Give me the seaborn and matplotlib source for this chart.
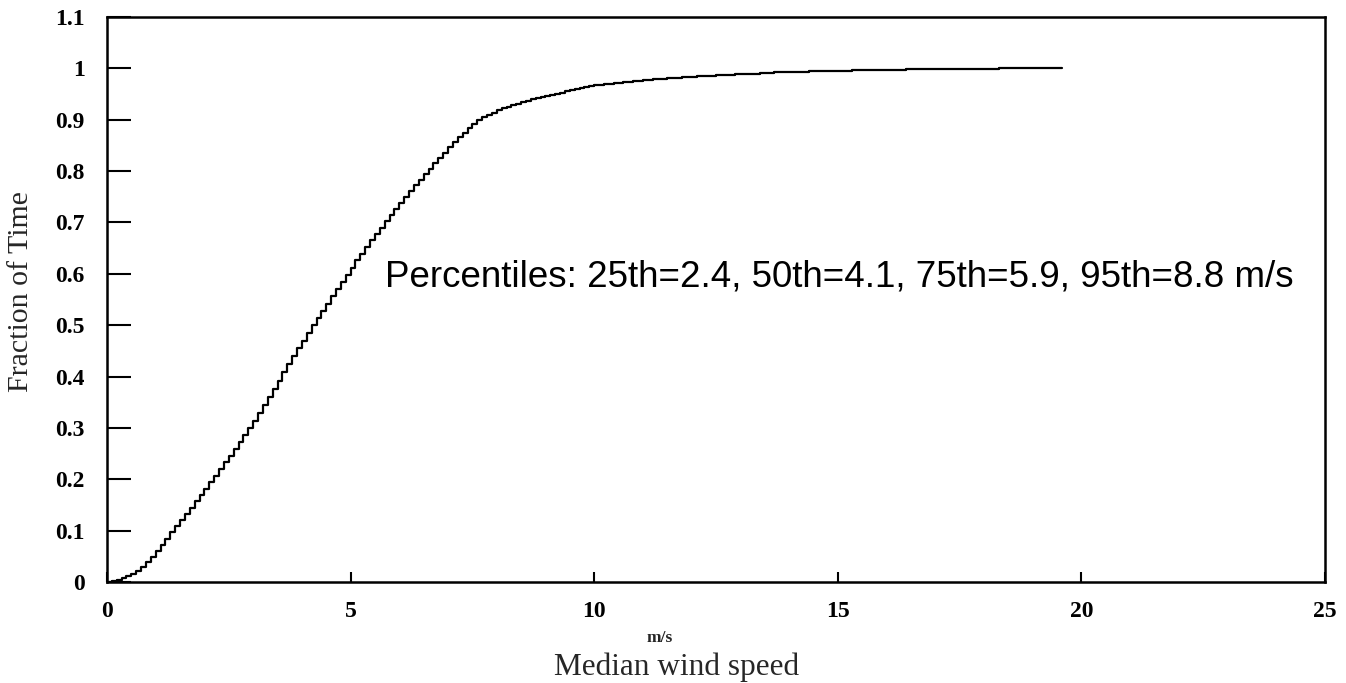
import numpy as np
import pandas as pd
import matplotlib
matplotlib.use("Agg")
import matplotlib.pyplot as plt
import seaborn as sns

# Wind speed bins (m/s), 0.1 m/s steps from 0.0 to 19.6
wind_speed = [round(0.1 * i, 1) for i in range(197)]

# Cumulative fraction of time (one value per 0.1 m/s)
fraction_of_time = [
    0.000, 0.002, 0.004, 0.007, 0.011, 0.016, 0.022, 0.030, 0.039, 0.049,   # 0.0-0.9
    0.060, 0.072, 0.084, 0.097, 0.109, 0.121, 0.133, 0.145, 0.157, 0.169,   # 1.0-1.9
    0.181, 0.194, 0.207, 0.220, 0.233, 0.246, 0.259, 0.272, 0.286, 0.300,   # 2.0-2.9
    0.314, 0.329, 0.344, 0.360, 0.376, 0.392, 0.408, 0.424, 0.440, 0.455,   # 3.0-3.9
    0.470, 0.485, 0.500, 0.514, 0.528, 0.542, 0.556, 0.570, 0.584, 0.598,   # 4.0-4.9
    0.612, 0.626, 0.639, 0.652, 0.665, 0.678, 0.690, 0.702, 0.714, 0.726,   # 5.0-5.9
    0.738, 0.750, 0.761, 0.772, 0.783, 0.794, 0.805, 0.816, 0.826, 0.836,   # 6.0-6.9
    0.846, 0.856, 0.866, 0.875, 0.884, 0.892, 0.899, 0.905, 0.910, 0.914,   # 7.0-7.9
    0.918, 0.922, 0.925, 0.928, 0.931, 0.934, 0.937, 0.940, 0.943, 0.945,   # 8.0-8.9
    0.947, 0.949, 0.951, 0.953, 0.955, 0.957, 0.959, 0.961, 0.963, 0.965,   # 9.0-9.9
    0.967, 0.968, 0.969, 0.970, 0.971, 0.972, 0.973, 0.974, 0.975, 0.976,   # 10.0-10.9
    0.977, 0.978, 0.979, 0.980, 0.980, 0.981, 0.982, 0.982, 0.983, 0.984,   # 11.0-11.9
    0.984, 0.985, 0.985, 0.986, 0.986, 0.987, 0.987, 0.988, 0.988, 0.989,   # 12.0-12.9
    0.989, 0.990, 0.990, 0.990, 0.991, 0.991, 0.991, 0.992, 0.992, 0.992,   # 13.0-13.9
    0.993, 0.993, 0.993, 0.993, 0.994, 0.994, 0.994, 0.994, 0.995, 0.995,   # 14.0-14.9
    0.995, 0.995, 0.995, 0.996, 0.996, 0.996, 0.996, 0.996, 0.996, 0.997,   # 15.0-15.9
    0.997, 0.997, 0.997, 0.997, 0.998, 0.998, 0.998, 0.998, 0.998, 0.998,   # 16.0-16.9
    0.998, 0.998, 0.999, 0.999, 0.999, 0.999, 0.999, 0.999, 0.999, 0.999,   # 17.0-17.9
    0.999, 0.999, 0.999, 1.000, 1.000, 1.000, 1.000, 1.000, 1.000, 1.000,   # 18.0-18.9
    1.000, 1.000, 1.000, 1.000, 1.000, 1.000, 1.000,                        # 19.0-19.6
]

x_ticks = [0, 5, 10, 15, 20, 25]
y_ticks = [0, 0.1, 0.2, 0.3, 0.4, 0.5, 0.6, 0.7, 0.8, 0.9, 1.0, 1.1]
y_tick_labels = ["0", "0.1", "0.2", "0.3", "0.4", "0.5", "0.6", "0.7", "0.8", "0.9", "1", "1.1"]
annotation = "Percentiles: 25th=2.4, 50th=4.1, 75th=5.9, 95th=8.8 m/s"

df = pd.DataFrame({"speed": wind_speed, "frac": fraction_of_time})

sns.set_theme(style="white")
plt.rcParams["font.family"] = ["Liberation Serif", "DejaVu Serif"]

fig = plt.figure(figsize=(13.46, 6.83), dpi=100)
ax = fig.add_axes([0.0795, 0.1479, 0.9049, 0.8272])

sns.lineplot(data=df, x="speed", y="frac", ax=ax, color="black",
             linewidth=1.6, drawstyle="steps-post", estimator=None, sort=True)

ax.set_xlim(0, 25)
ax.set_ylim(0, 1.1)
ax.set_xticks(x_ticks)
ax.set_xticklabels([str(t) for t in x_ticks], fontsize=17, fontweight="bold")
ax.set_yticks(y_ticks)
ax.set_yticklabels(y_tick_labels, fontsize=17, fontweight="bold")

ax.tick_params(axis="y", direction="in", length=17, width=1.5, pad=16, colors="black", left=True)
ax.tick_params(axis="x", direction="in", length=7, width=1.5, pad=14, colors="black", bottom=True)

for s in ax.spines.values():
    s.set_visible(True)
    s.set_color("black")
    s.set_linewidth(1.8)

ax.set_xlabel("")
ax.set_ylabel("")
fig.text(21 / 1346, 1 - 292 / 683, "Fraction of Time", rotation=90,
         ha="center", va="center", fontsize=21.5)

fig.text(660 / 1346, 1 - 638 / 683, "m/s", ha="center", va="center",
         fontsize=12.5, fontweight="bold")
fig.text(677 / 1346, 1 - 667 / 683, "Median wind speed", ha="center", va="center",
         fontsize=22.5)

ax.text(5.7, 0.594, annotation, ha="left", va="center", fontsize=26.5,
        family=["Liberation Sans", "DejaVu Sans"], color="black")

fig.savefig("out.png", dpi=100, facecolor="white")
